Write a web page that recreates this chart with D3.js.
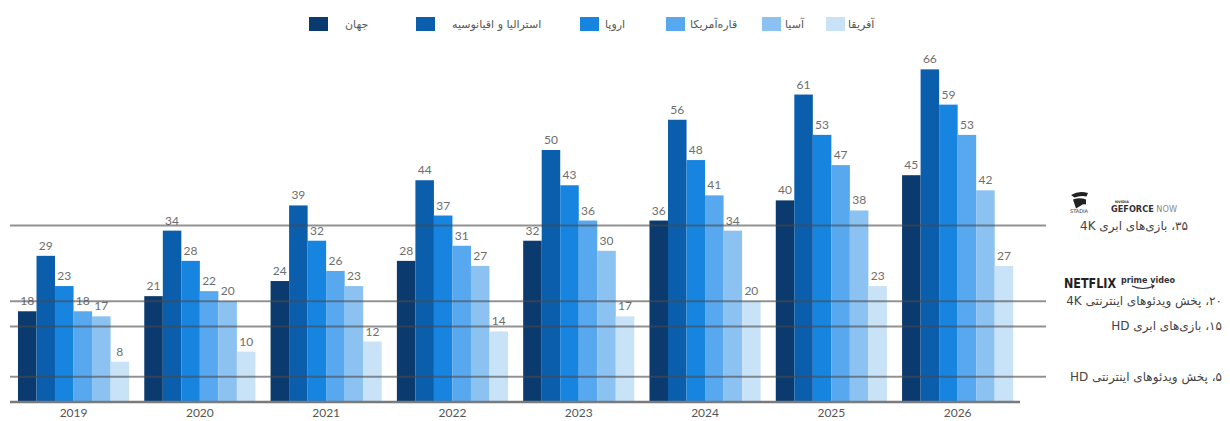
<!DOCTYPE html>
<html><head><meta charset="utf-8">
<script src="https://cdn.jsdelivr.net/npm/d3@7"></script>
<style>
html,body{margin:0;padding:0;background:#fff;}
svg{display:block;}
</style>
</head><body>
<svg id="chart" width="1230" height="421"></svg>
<script>
// ---- data ----
const years = ["2019","2020","2021","2022","2023","2024","2025","2026"];
const seriesNames = ["جهان","استرالیا و اقیانوسیه","اروپا","قاره‌آمریکا","آسیا","آفریقا"];
const world     = [18,21,24,28,32,36,40,45];
const australia = [29,34,39,44,50,56,61,66];
const europe    = [23,28,32,37,43,48,53,59];
const americas  = [18,22,26,31,36,41,47,53];
const asia      = [17,20,23,27,30,34,38,42];
const africa    = [8,10,12,14,17,20,23,27];
const refValues = [35,20,15,5];
const refLabels = ["۳۵، بازی‌های ابری 4K","۲۰، پخش ویدئوهای اینترنتی 4K","۱۵، بازی‌های ابری HD","۵، پخش ویدئوهای اینترنتی HD"];

// ---- styling / layout ----
const colors = ["#0b3a6e","#0b5eab","#1784e0","#58a8ef","#8cc2f1","#c8e2f8"];
const legendSquareX = [309,416,580,666,762,826];
const legendTextX   = [345,452,605,690,785,848];
const refLabelRight = [1188,1222,1222,1222];
const allSeries = [world,australia,europe,americas,asia,africa];

const svg = d3.select("#chart");
const baseY = 402;
const y = d3.scaleLinear().domain([0,70]).range([baseY, baseY - 70*5.04]);
const x = d3.scaleBand().domain(years).range([10.4,1020.8]).paddingInner(0.12).paddingOuter(0.06);
const xs = d3.scaleBand().domain(d3.range(seriesNames.length)).range([0, x.bandwidth()]).padding(0);

const numFont = "Lato, 'Open Sans', sans-serif";
const faFont = "'DejaVu Sans', 'Noto Sans', sans-serif";

// bars
const groups = svg.append("g").selectAll("g").data(years).join("g")
  .attr("transform", d => `translate(${x(d)},0)`);
groups.each(function(yr, i){
  const g = d3.select(this);
  const vals = allSeries.map((s,k)=>({k, v:s[i]}));
  g.selectAll("rect").data(vals).join("rect")
    .attr("x", d => xs(d.k))
    .attr("y", d => y(d.v))
    .attr("width", xs.bandwidth())
    .attr("height", d => baseY - y(d.v))
    .attr("fill", d => colors[d.k]);
});

// reference lines (over bars)
svg.append("g").selectAll("line").data(refValues).join("line")
  .attr("x1", 10).attr("x2", 1046)
  .attr("y1", d => y(d)).attr("y2", d => y(d))
  .attr("stroke", "#4a4a4a").attr("stroke-opacity", 0.6).attr("stroke-width", 2);

// value labels
groups.each(function(yr, i){
  const g = d3.select(this);
  const vals = allSeries.map((s,k)=>({k, v:s[i]}));
  g.selectAll("text").data(vals).join("text")
    .attr("x", d => xs(d.k) + xs.bandwidth()/2)
    .attr("y", d => y(d.v) - 6)
    .attr("text-anchor", "middle")
    .attr("font-family", numFont).attr("font-size", 12)
    .attr("fill", "#6e6e6e")
    .text(d => d.v);
});

// x axis
const xAxis = d3.axisBottom(x).tickSize(0).tickPadding(6);
const ax = svg.append("g").attr("transform", `translate(0,${baseY})`).call(xAxis);
ax.select(".domain").attr("stroke", "#7a7a7a").attr("stroke-width", 2.5)
  .attr("d", `M10,0H1020`);
ax.selectAll("text").attr("font-family", numFont).attr("font-size", 12).attr("fill", "#555");

// legend
const leg = svg.append("g");
leg.selectAll("rect").data(seriesNames).join("rect")
  .attr("x", (d,i) => legendSquareX[i]).attr("y", 17)
  .attr("width", 19).attr("height", 14)
  .attr("fill", (d,i) => colors[i]);
leg.selectAll("text").data(seriesNames).join("text")
  .attr("x", (d,i) => legendTextX[i]).attr("y", 24)
  .attr("dominant-baseline", "central")
  .attr("font-family", faFont).attr("font-size", 11)
  .attr("fill", "#555")
  .text(d => d);

// reference annotations
svg.append("g").selectAll("text").data(refValues).join("text")
  .attr("x", (d,i) => refLabelRight[i])
  .attr("y", d => y(d))
  .attr("direction", "rtl")
  .attr("text-anchor", "start")
  .attr("dominant-baseline", "central")
  .attr("font-family", faFont).attr("font-size", 12)
  .attr("fill", "#444")
  .text((d,i) => refLabels[i]);

// logos (text approximations)
const logos = svg.append("g");
// Stadia mark
logos.append("path")
  .attr("d", "M1071,195 q8,-5 17,-2 l-1.5,3.5 q-6,-1.5 -12,1 z M1073,199.5 q7,-2.5 13,0 l0,5 q-3,-1 -5,1 l-5,3 z")
  .attr("fill", "#222");
logos.append("text").attr("x", 1079).attr("y", 213).attr("text-anchor", "middle")
  .attr("font-family", "'DejaVu Sans', sans-serif").attr("font-size", 5).attr("fill", "#333")
  .text("STADIA");
logos.append("text").attr("x", 1122).attr("y", 203).attr("text-anchor", "middle")
  .attr("font-family", "'DejaVu Sans', sans-serif").attr("font-size", 3.5).attr("font-weight", "bold").attr("fill", "#333")
  .text("NVIDIA");
const gf = logos.append("text").attr("x", 1111).attr("y", 212)
  .attr("font-family", "'DejaVu Sans Condensed', 'DejaVu Sans', sans-serif").attr("font-size", 8.5).attr("fill", "#333")
  .attr("textLength", 66).attr("lengthAdjust", "spacingAndGlyphs");
gf.append("tspan").attr("font-weight", "bold").text("GEFORCE");
gf.append("tspan").attr("fill", "#888").text(" NOW");
logos.append("text").attr("x", 1064).attr("y", 288)
  .attr("font-family", "'DejaVu Sans Condensed', 'DejaVu Sans', sans-serif").attr("font-stretch", "condensed")
  .attr("font-weight", "bold").attr("font-size", 14).attr("fill", "#222")
  .attr("textLength", 52).attr("lengthAdjust", "spacingAndGlyphs")
  .text("NETFLIX");
logos.append("text").attr("x", 1121).attr("y", 283)
  .attr("font-family", "'DejaVu Sans', sans-serif").attr("font-weight", "bold").attr("font-size", 9).attr("fill", "#333")
  .attr("textLength", 54).attr("lengthAdjust", "spacingAndGlyphs")
  .text("prime video");
logos.append("path").attr("d", "M1132,286 q11,5 22,0 M1151,284.5 l3,1.5 l-2,2.5")
  .attr("fill", "none").attr("stroke", "#333").attr("stroke-width", 1.1);
</script>
</body></html>
